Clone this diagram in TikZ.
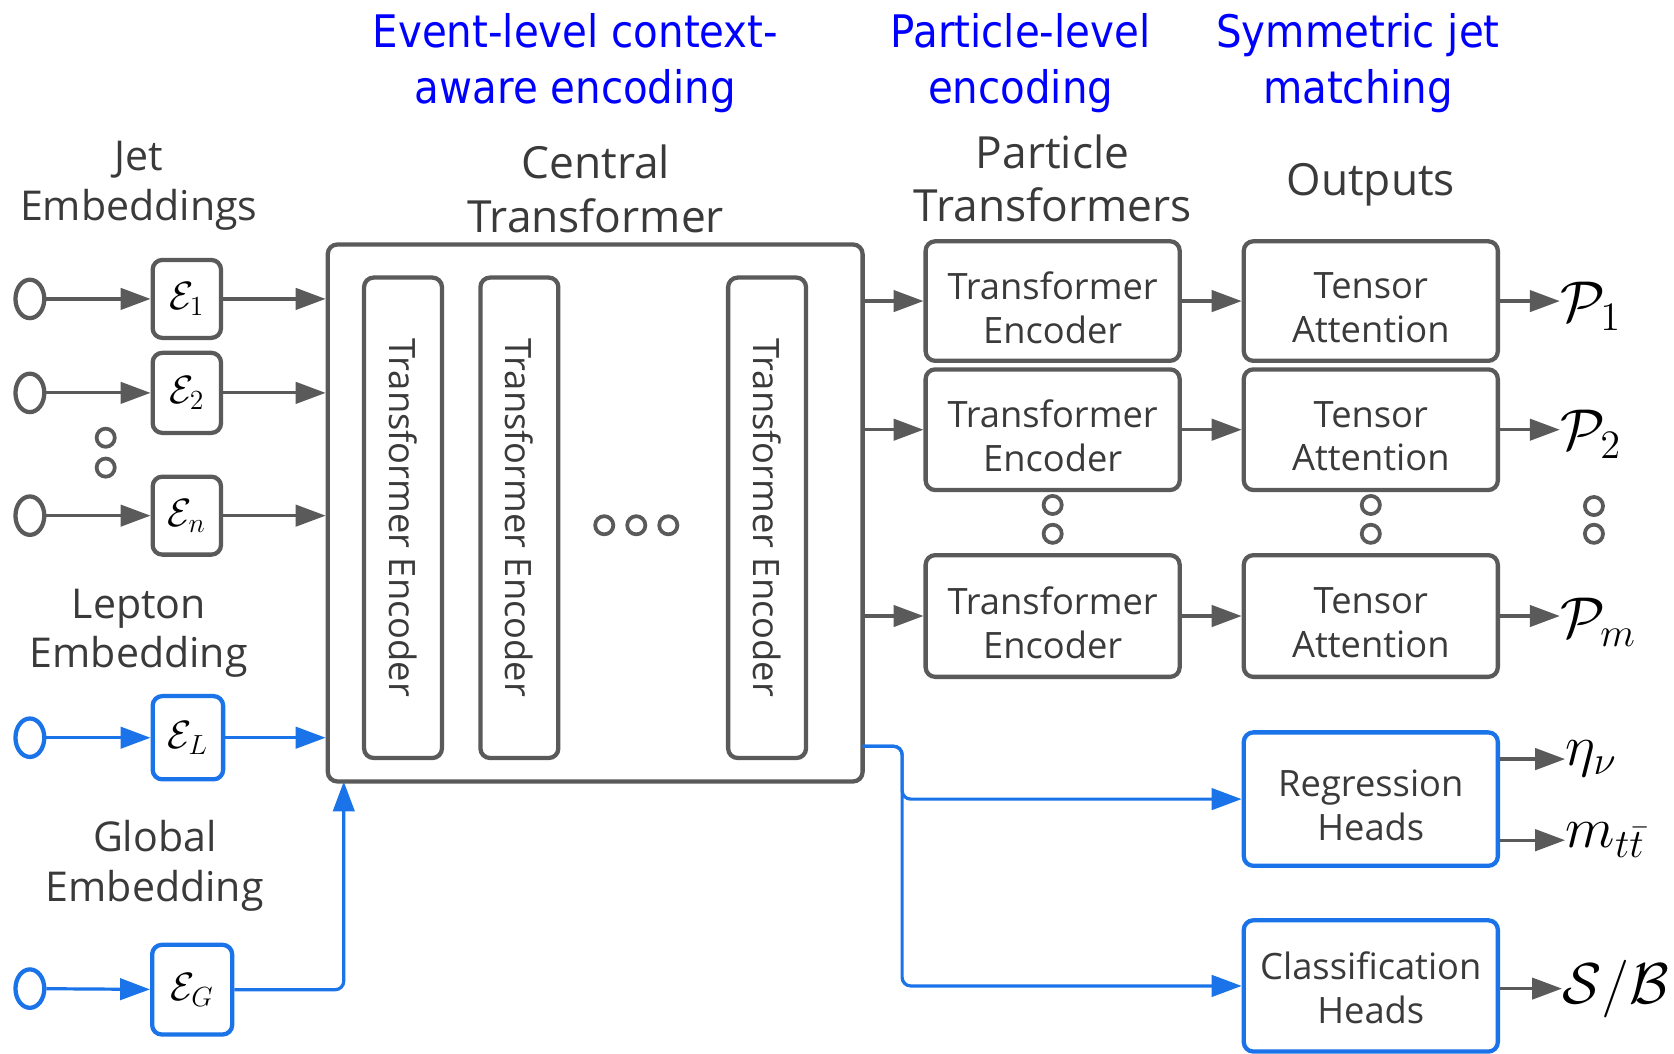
\RequirePackage{fix-cm}
\documentclass[tikz,border=0pt]{standalone}
\usepackage[no-math]{fontspec}
\setmainfont{Open Sans}
\newfontfamily\hdrfont{DejaVu Sans Condensed}
\usetikzlibrary{arrows.meta,shapes.geometric,calc}
\definecolor{lgray}{HTML}{5A5A5A}
\definecolor{tgray}{HTML}{3A3A3A}
\definecolor{lblue}{HTML}{1A73E8}
\definecolor{hblue}{HTML}{0000FF}
\newcommand{\bmath}[1]{\scalebox{1.85}{$#1$}}
\tikzset{
 gline/.style={draw=lgray, line width=3pt, -{Triangle[length=28pt,width=20pt]}},
 bline/.style={draw=lblue, line width=3pt, -{Triangle[length=28pt,width=20pt]}},
 gbox/.style={draw=lgray, line width=4pt, rounded corners=9pt, fill=white, inner sep=0pt, text=tgray, align=center, font=\fontsize{34}{41}\selectfont},
 bbox/.style={gbox, draw=lblue},
 btxt/.style={label={[yshift=-6pt, inner sep=0pt, text=tgray, align=center, font=\fontsize{34}{41}\selectfont]center:#1}},
 embbox/.style={gbox, text=black, font=\fontsize{20}{24}\selectfont},
 inp/.style={ellipse, draw=lgray, line width=4pt, minimum width=27pt, minimum height=36pt, inner sep=0pt},
 dotc/.style={circle, draw=lgray, line width=3.5pt, minimum size=17pt, inner sep=0pt},
 lbl/.style={text=tgray, align=center, inner sep=0pt, font=\fontsize{38.5}{46}\selectfont},
 ttl/.style={text=tgray, align=center, inner sep=0pt, font=\fontsize{41.5}{50}\selectfont},
 hdr/.style={text=hblue, align=center, inner sep=0pt, font=\hdrfont\fontsize{42}{52}\selectfont},
 mth/.style={inner sep=0pt, anchor=west, scale=2.7, font=\fontsize{20}{24}\selectfont},
}
\begin{document}
\begin{tikzpicture}[x=1pt,y=-1pt]
\useasboundingbox (0,0) rectangle (1568,987);

% headers
\node[hdr] (h1) at (539,59) {Event-level context-\\aware encoding};
\node[hdr] (h2) at (956,59) {Particle-level\\encoding};
\node[hdr] (h3) at (1272,59) {Symmetric jet\\matching};

% titles
\node[lbl] (jetl) at (130,174) {Jet\\Embeddings};
\node[ttl] (ctl) at (558,177) {Central\\Transformer};
\node[ttl] (ptl) at (986,167) {Particle\\Transformers};
\node[ttl] (otl) at (1284,173) {Outputs};
\node[lbl] (lepl) at (130,593) {Lepton\\Embedding};
\node[lbl] (glol) at (145,811) {Global\\Embedding};

% central transformer
\node[gbox, minimum width=501pt, minimum height=503pt] (central) at (557.5,480.5) {};
\node[gbox, rotate=-90, minimum width=450pt, minimum height=73pt] (enc1) at (377.5,485) {Transformer Encoder};
\node[gbox, rotate=-90, minimum width=450pt, minimum height=73pt] (enc2) at (486.5,485) {Transformer Encoder};
\node[gbox, rotate=-90, minimum width=450pt, minimum height=73pt] (enc3) at (718.5,485) {Transformer Encoder};
\node[dotc] (cd1) at (566,492) {};
\node[dotc] (cd2) at (596,492) {};
\node[dotc] (cd3) at (626,492) {};

% inputs
\node[inp] (i1) at (28,280) {};
\node[inp] (i2) at (28,368) {};
\node[inp] (in) at (28,483) {};
\node[inp, draw=lblue] (iL) at (28,691) {};
\node[inp, draw=lblue] (iG) at (28,926) {};
\node[embbox, minimum width=64pt, minimum height=73pt] (e1) at (175,280) {\bmath{\mathcal{E}_1}};
\node[embbox, minimum width=64pt, minimum height=75pt] (e2) at (175,368) {\bmath{\mathcal{E}_2}};
\node[embbox, minimum width=64pt, minimum height=73pt] (en) at (175,483) {\bmath{\mathcal{E}_n}};
\node[embbox, draw=lblue, minimum width=66pt, minimum height=78pt] (eL) at (176,691) {\bmath{\mathcal{E}_L}};
\node[embbox, draw=lblue, minimum width=75pt, minimum height=84pt] (eG) at (180,927) {\bmath{\mathcal{E}_G}};
\node[dotc] (ld1) at (99,410) {};
\node[dotc] (ld2) at (99,438) {};

\draw[gline] (i1) -- (e1);
\draw[gline] (i2) -- (e2);
\draw[gline] (in) -- (en);
\draw[bline] (iL) -- (eL);
\draw[bline] (iG) -- (eG);
\draw[gline] (e1) -- (e1 -| central.west);
\draw[gline] (e2) -- (e2 -| central.west);
\draw[gline] (en) -- (en -| central.west);
\draw[bline] (eL) -- (eL -| central.west);
\coordinate (gin) at (322,732);
\draw[bline, rounded corners=8pt] (eG.east) -| (gin);

% particle transformers and tensor attention
\node[gbox, minimum width=238pt, minimum height=112pt, btxt={Transformer\\Encoder}] (te1) at (986,282) {};
\node[gbox, minimum width=238pt, minimum height=113pt, btxt={Transformer\\Encoder}] (te2) at (986,402.5) {};
\node[gbox, minimum width=238pt, minimum height=114pt, btxt={Transformer\\Encoder}] (te3) at (986,577) {};
\node[gbox, minimum width=238pt, minimum height=112pt, btxt={Tensor\\Attention}] (ta1) at (1284,282) {};
\node[gbox, minimum width=238pt, minimum height=113pt, btxt={Tensor\\Attention}] (ta2) at (1284,402.5) {};
\node[gbox, minimum width=238pt, minimum height=114pt, btxt={Tensor\\Attention}] (ta3) at (1284,577) {};
\node[dotc] (td1) at (986,473) {};
\node[dotc] (td2) at (986,500) {};
\node[dotc] (ad1) at (1284,473) {};
\node[dotc] (ad2) at (1284,500) {};
\node[dotc] (pd1) at (1493,474) {};
\node[dotc] (pd2) at (1493,500) {};

\draw[gline] (te1 -| central.east) -- (te1);
\draw[gline] (te2 -| central.east) -- (te2);
\draw[gline] (te3 -| central.east) -- (te3);
\draw[gline] (te1) -- (ta1);
\draw[gline] (te2) -- (ta2);
\draw[gline] (te3) -- (ta3);

\node[mth] (p1) at (1461,287) {$\mathcal{P}_1$};
\node[mth] (p2) at (1461,407) {$\mathcal{P}_2$};
\node[mth] (pm) at (1461,583) {$\mathcal{P}_m$};
\draw[gline] (ta1) -- (p1.west |- ta1);
\draw[gline] (ta2) -- (p2.west |- ta2);
\draw[gline] (ta3) -- (pm.west |- ta3);

% heads
\node[bbox, minimum width=238pt, minimum height=125pt, btxt={Regression\\Heads}] (reg) at (1284,748.5) {};
\node[bbox, minimum width=238pt, minimum height=123pt, label={[yshift=-2pt, inner sep=0pt, text=tgray, align=center, font=\fontsize{34}{41}\selectfont]center:Classification\\Heads}] (cls) at (1284,923.5) {};
\coordinate (cout) at (808,699);
\draw[bline, rounded corners=8pt] (cout) -- ++(37,0) |- (reg.west);
\draw[bline, rounded corners=8pt] (cout) -- ++(37,0) |- (cls.west);

\node[mth] (eta) at (1466,711) {$\eta_\nu$};
\node[mth] (mtt) at (1466,787) {$m_{t\bar t}$};
\node[mth] (sb) at (1463,926) {$\mathcal{S}/\mathcal{B}$};
\draw[gline] (reg.east |- eta.west) -- (eta.west);
\draw[gline] (reg.east |- mtt.west) -- (mtt.west);
\draw[gline] (cls.east |- sb.west) -- (sb.west);
\end{tikzpicture}
\end{document}
